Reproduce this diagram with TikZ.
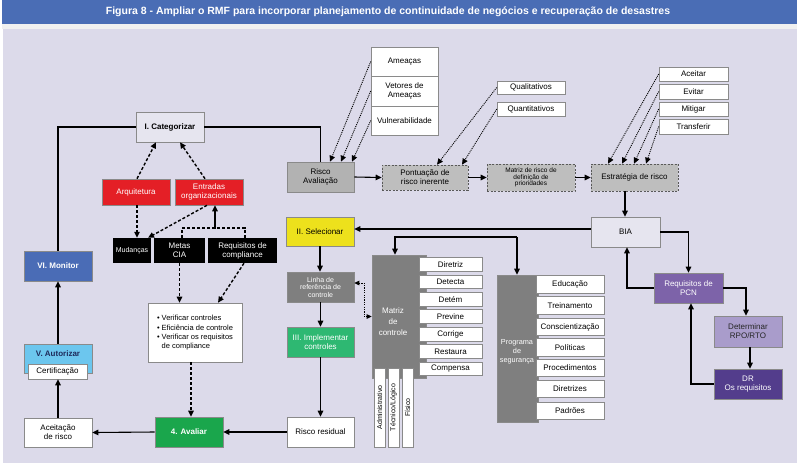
\documentclass[tikz,border=0pt]{standalone}
\usepackage{fontspec}
\setmainfont{Liberation Sans}
\usetikzlibrary{arrows.meta}
\definecolor{bglav}{HTML}{DCDAEA}
\definecolor{titleblue}{HTML}{4A6DB5}
\definecolor{redbox}{HTML}{E41F26}
\definecolor{yelbox}{HTML}{EDE11C}
\definecolor{grlin}{HTML}{7F7F7F}
\definecolor{grrisk}{HTML}{B2B2B2}
\definecolor{grpon}{HTML}{BEBEBE}
\definecolor{grnimp}{HTML}{2EB872}
\definecolor{grnava}{HTML}{1AA64C}
\definecolor{lblue}{HTML}{6CC6EE}
\definecolor{mblue}{HTML}{4A6CB6}
\definecolor{purbox}{HTML}{7D63A9}
\definecolor{lpurbox}{HTML}{A99CCB}
\definecolor{dpurbox}{HTML}{533D8C}
\definecolor{catfill}{HTML}{E6E5EF}
\definecolor{bordgray}{HTML}{8A8A8A}
\definecolor{navytext}{HTML}{1E2A5A}
\newcommand{\lblfont}{\fontsize{8}{9}\selectfont}
\newcommand{\verfont}{\fontsize{7.5}{8.5}\selectfont}
\newcommand{\smallfont}{\fontsize{6.5}{6.5}\selectfont}
\newcommand{\midfont}{\fontsize{7}{7.5}\selectfont}
\begin{document}
\begin{tikzpicture}[x=1pt,y=-1pt,
  box/.style={draw=bordgray, line width=0.6pt, inner sep=1pt, align=center, font=\lblfont, rectangle},
  dbox/.style={box, dash pattern=on 2pt off 1.5pt, draw=gray!70!black, fill=grpon},
  wbox/.style={box, fill=white},
  bbox/.style={rectangle, fill=black, text=white, inner sep=1pt, align=center, font=\lblfont},
  arr/.style={line width=1.1pt, -{Triangle[length=6pt,width=5.5pt]}},
  plain/.style={line width=1.1pt},
  dsh/.style={line width=1.4pt, dash pattern=on 3pt off 2pt, -{Triangle[length=6pt,width=5.5pt]}},
  dotarr/.style={line width=0.9pt, dash pattern=on 1pt off 1pt, -{Triangle[length=6pt,width=5.5pt]}},
  dotdbl/.style={line width=0.9pt, dash pattern=on 1.2pt off 1.2pt, {Triangle[length=5pt,width=4.5pt]}-{Triangle[length=5pt,width=4.5pt]}}
]
\useasboundingbox (0,0) rectangle (800,467);
\fill[white] (0,0) rectangle (800,467);
\fill[titleblue] (2,0) rectangle (797,24);
\fill[gray!12] (2,24) rectangle (797,29);
\fill[bglav] (3,29) rectangle (797,463);
\node[font=\bfseries\fontsize{10.5}{11}\selectfont, text=white] (title) at (388,11.5) {Figura 8 - Ampliar o RMF para incorporar planejamento de continuidade de negócios e recuperação de desastres};

% left part
\node[box, fill=catfill, minimum width=68pt, minimum height=30pt, font=\bfseries\lblfont] (cat) at (170,127) {I. Categorizar};
\node[box, fill=redbox, text=white, minimum width=68pt, minimum height=26pt] (arq) at (136,192) {Arquitetura};
\node[box, fill=redbox, text=white, minimum width=68pt, minimum height=26pt] (ent) at (209,192) {Entradas\\organizacionais};
\node[bbox, minimum width=38pt, minimum height=25pt, font=\midfont] (mud) at (132,250.5) {Mudanças};
\node[bbox, minimum width=51pt, minimum height=25pt] (metas) at (179.5,250.5) {Metas\\CIA};
\node[bbox, minimum width=69pt, minimum height=25pt] (req) at (242.5,250.5) {Requisitos de\\compliance};
\node[wbox, minimum width=94pt, minimum height=59pt, align=left, font=\verfont] (ver) at (195,332.5) {• Verificar controles\\[1pt]• Eficiência de controle\\[1pt]• Verificar os requisitos\\\phantom{• }de compliance};
\node[box, fill=mblue, text=white, minimum width=68pt, minimum height=30pt, font=\bfseries\lblfont] (mon) at (58,266) {VI. Monitor};
\node[box, fill=lblue, text=navytext, minimum width=68pt, minimum height=29pt, text depth=9pt, font=\bfseries\lblfont] (aut) at (58,358.5) {V. Autorizar};
\node[wbox, minimum width=59pt, minimum height=15pt] (cert) at (57.5,371.5) {Certificação};
\node[wbox, minimum width=68pt, minimum height=29pt] (acc) at (58,432.5) {Aceitação\\de risco};
\node[box, fill=grnava, text=white, minimum width=68pt, minimum height=30pt, font=\bfseries\lblfont] (aval) at (189,432) {4. Avaliar};

% middle column
\node[box, fill=grrisk, minimum width=67pt, minimum height=30pt] (risk) at (320.5,177) {Risco\\Avaliação};
\node[box, fill=yelbox, minimum width=68pt, minimum height=29pt] (sel) at (320,231.5) {II. Selecionar};
\node[box, fill=grlin, text=white, minimum width=67pt, minimum height=30pt, font=\midfont] (lin) at (320.5,287) {Linha de\\referência de\\controle};
\node[box, fill=grnimp, text=white, minimum width=67pt, minimum height=30pt] (imp) at (320.5,342) {III. Implementar\\controles};
\node[wbox, minimum width=67pt, minimum height=30pt] (res) at (320.5,432) {Risco residual};

% threats stack
\node[wbox, minimum width=67pt, minimum height=29pt] (ame) at (404.5,61.5) {Ameaças};
\node[wbox, minimum width=67pt, minimum height=30pt] (vet) at (404.5,91) {Vetores de\\Ameaças};
\node[wbox, minimum width=67pt, minimum height=29pt] (vul) at (404.5,120.5) {Vulnerabilidade};

\node[dbox, minimum width=86pt, minimum height=25pt] (pon) at (425,177.5) {Pontuação de\\risco inerente};
\node[wbox, minimum width=68pt, minimum height=13pt] (qual) at (531,87.5) {Qualitativos};
\node[wbox, minimum width=68pt, minimum height=14pt] (quan) at (531,109) {Quantitativos};
\node[dbox, minimum width=88pt, minimum height=27pt, font=\smallfont] (mat) at (531,177.5) {Matriz de risco de\\definição de\\prioridades};
\node[dbox, minimum width=87pt, minimum height=27pt] (est) at (634.5,177.5) {Estratégia de risco};
\node[wbox, minimum width=69pt, minimum height=14pt] (acei) at (693.5,74) {Aceitar};
\node[wbox, minimum width=69pt, minimum height=15pt] (evi) at (693.5,91.5) {Evitar};
\node[wbox, minimum width=69pt, minimum height=14pt] (mit) at (693.5,109) {Mitigar};
\node[wbox, minimum width=69pt, minimum height=15pt] (tra) at (693.5,126.5) {Transferir};

% right column
\node[box, fill=catfill, minimum width=69pt, minimum height=30pt] (bia) at (625.5,232) {BIA};
\node[box, fill=purbox, text=white, minimum width=69pt, minimum height=30pt] (pcn) at (688.5,288) {Requisitos de\\PCN};
\node[box, fill=lpurbox, text=black!85, minimum width=68pt, minimum height=31pt] (det) at (748,331.5) {Determinar\\RPO/RTO};
\node[box, fill=dpurbox, text=white, minimum width=68pt, minimum height=30pt] (dr) at (748,384) {DR\\Os requisitos};

% control matrix
\node[box, fill=grlin, minimum width=54pt, minimum height=123pt] (mc) at (399,316.5) {};
\node[text=white, font=\lblfont, align=center, inner sep=0pt] (mctext) at (393,322) {Matriz\\[2pt]de\\[2pt]controle};
\foreach \nm/\t/\yy in {m1/Diretriz/264.5, m2/Detecta/282, m3/Detém/299.5, m4/Previne/316.5, m5/Corrige/334.5, m6/Restaura/351.5, m7/Compensa/369}{
  \node[wbox, minimum width=63pt, minimum height=13.5pt] (\nm) at (450.5,\yy) {\t};
}
\foreach \nm/\t/\xx in {v1/Administrativo/379.5, v2/Técnico\slash Lógico/393.5, v3/Físico/407.5}{
  \node[wbox, rotate=90, minimum width=79pt, minimum height=11pt, inner sep=0pt, font=\midfont] (\nm) at (\xx,407.5) {\t};
}

% security program
\node[box, fill=grlin, minimum width=41pt, minimum height=147pt] (prog) at (517.5,348.5) {};
\node[text=white, font=\fontsize{7.3}{8}\selectfont, align=center, inner sep=0pt] (progtext) at (517,352) {Programa\\[1pt]de\\[1pt]segurança};
\foreach \nm/\t/\yy in {p1/Educação/284.5, p2/Treinamento/305.5, p3/Conscientização/327, p4/Políticas/347.5, p5/Procedimentos/368, p6/Diretrizes/389, p7/Padrões/411}{
  \node[wbox, minimum width=68pt, minimum height=17.5pt] (\nm) at (570,\yy) {\t};
}

% ---------- connectors ----------
\draw[plain] (cat.west) -| (mon.north);
\draw[plain] (cat.east) -| (risk.north);
\draw[dsh] ([xshift=1pt]arq.north) -- ([xshift=-14pt]cat.south);
\draw[dsh] ([xshift=-4pt]ent.north) -- ([xshift=10pt]cat.south);
\draw[dsh] ([xshift=1pt]arq.south) -- ([xshift=5pt]mud.north);
\draw[dsh] ([xshift=-2pt]ent.south) -- ([xshift=16pt]mud.north);
\coordinate (brk) at (215,228);
\draw[line width=1.4pt, dash pattern=on 3pt off 2pt] ([xshift=2.5pt]metas.north) |- (brk) -| ([xshift=2.5pt]req.north);
\draw[arr] (brk) -- (brk |- ent.south);
\draw[dsh] (metas.south) -- (metas.south |- ver.north);
\draw[dsh] ([xshift=1.5pt]req.south) -- ([xshift=23pt]ver.north);
\draw[dsh] ([xshift=-4pt]ver.south) -- ([xshift=-4pt]ver.south |- aval.north);
\draw[arr] (res.west) -- (aval.east);
\draw[arr] (aval.west) -- (acc.east);
\draw[arr] (acc.north) -- (cert.south -| acc.north);
\draw[arr] (aut.north) -- (mon.south);

\draw[arr] (sel.south) -- (sel.south |- lin.north);
\draw[arr] (lin.south) -- (imp.north);
\draw[arr] (imp.south) -- (res.north);
\draw[dotdbl] ([yshift=4pt]lin.east) -- ++(10,0) |- (mc.west);

\draw[arr] ([yshift=3pt]bia.west) -- ([yshift=3pt]bia.west -| sel.east);
\coordinate (b1) at (395,237);
\coordinate (b2) at (517,237);
\draw[arr] (b2) -- (b1) -- (b1 |- mc.north);
\draw[arr] (b2) -- (b2 |- prog.north);

\draw[arr] (risk.east) -- (pon.west);
\draw[arr] (pon.east) -- (mat.west);
\draw[arr] (mat.east) -- (est.west);
\draw[arr] ([xshift=-9.5pt]est.south) -- ([xshift=-9.5pt]est.south |- bia.north);
\draw[arr] (bia.east) -| (pcn.north);
\draw[arr] (pcn.west) -| ([xshift=1.5pt]bia.south);
\draw[arr] (pcn.east) -| ([xshift=-2pt]det.north);
\draw[arr] ([xshift=2pt]det.south) -- ([xshift=2pt]dr.north);
\draw[arr] (dr.west) -| ([xshift=2.5pt]pcn.south);

\draw[dotarr] (ame.west) -- ([xshift=9.5pt]risk.north);
\draw[dotarr] (vet.west) -- ([xshift=20.5pt]risk.north);
\draw[dotarr] (vul.west) -- ([xshift=31.5pt]risk.north);
\draw[dotarr] (qual.west) -- ([xshift=12pt]pon.north);
\draw[dotarr] (quan.west) -- ([xshift=37pt]pon.north);
\draw[dotarr] (acei.west) -- ([xshift=-26.5pt]est.north);
\draw[dotarr] (evi.west) -- ([xshift=-12.5pt]est.north);
\draw[dotarr] (mit.west) -- ([xshift=-0.5pt]est.north);
\draw[dotarr] (tra.west) -- ([xshift=11.5pt]est.north);
\end{tikzpicture}
\end{document}
